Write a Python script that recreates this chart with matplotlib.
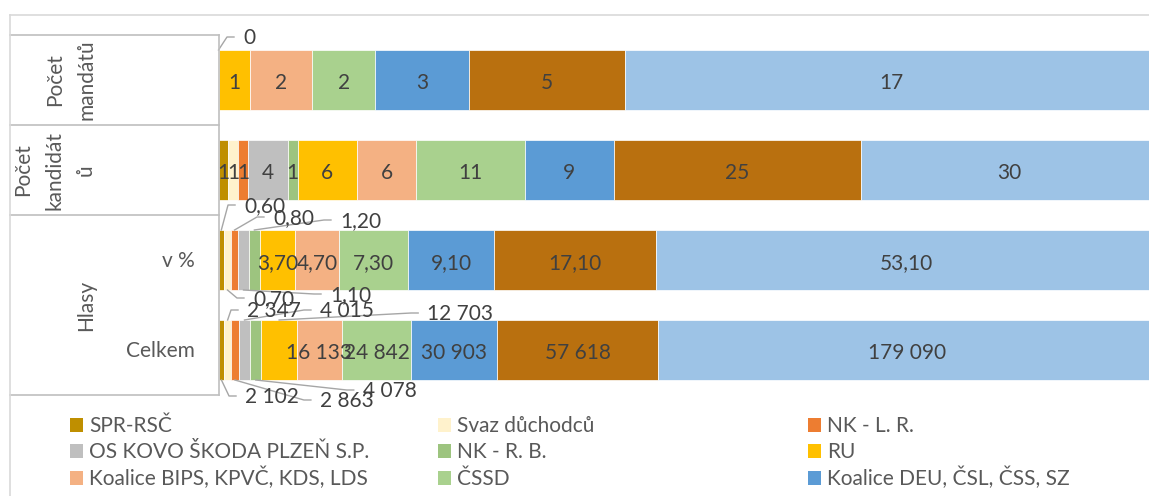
import numpy as np
import matplotlib
matplotlib.use("Agg")
import matplotlib.pyplot as plt
import matplotlib.transforms as mtransforms
from matplotlib.lines import Line2D
from matplotlib.patches import Rectangle

plt.rcParams['font.family'] = ['Lato', 'DejaVu Sans']

# ---------------- data ----------------
series = ["SPR-RSČ", "Svaz důchodců", "NK - L. R.", "OS KOVO ŠKODA PLZEŇ S.P.",
          "NK - R. B.", "RU", "Koalice BIPS, KPVČ, KDS, LDS", "ČSSD",
          "Koalice DEU, ČSL, ČSS, SZ", "LB", "ODS"]
colors = ["#BF8F00", "#FFF2CC", "#ED7D31", "#BFBFBF", "#9DC47F", "#FFC000",
          "#F4B183", "#A9D18E", "#5B9BD5", "#B9700F", "#9DC3E6"]
nan = np.nan
mandaty = [0, nan, nan, nan, nan, 1, 2, 2, 3, 5, 17]
kandidati = [1, 1, 1, 4, 1, 6, 6, 11, 9, 25, 30]
hlasy_pct = [0.60, 0.70, 0.80, 1.10, 1.20, 3.70, 4.70, 7.30, 9.10, 17.10, 53.10]
hlasy_celkem = [2102, 2347, 2863, 4015, 4078, 12703, 16133, 24842, 30903, 57618, 179090]

group_labels = ["Počet\nmandátů", "Počet\nkandidát\nů", "Hlasy"]
group_rows = [[0], [1], [2, 3]]
sub_labels = ["", "", "v %", "Celkem"]
legend_count = 9  # only first nine entries are visible

rows = [mandaty, kandidati, hlasy_pct, hlasy_celkem]


def fmt(row, v):
    if row == 2:
        return f"{v:.2f}".replace(".", ",")
    if row == 3:
        return f"{int(v):,}".replace(",", " ")
    return f"{int(v)}"


# callouts: (row, series index) -> (dx, dy, side) in pixels from anchor
callouts = {
    (0, 0): (24.5, -13, "top"),
    (2, 0): (22.7, -25, "top"),
    (2, 2): (38.4, -13, "top"),
    (2, 4): (85.6, -10, "top"),
    (2, 1): (25.5, 8, "bottom"),
    (2, 3): (86.5, 4, "bottom"),
    (3, 1): (19.4, -10, "top"),
    (3, 3): (75.5, -10, "top"),
    (3, 5): (148.0, -7, "top"),
    (3, 0): (23.6, 16, "bottom"),
    (3, 2): (85.0, 20, "bottom"),
    (3, 4): (107.0, 10, "bottom"),
}

# ---------------- layout ----------------
W, H = 1149, 496
fig = plt.figure(figsize=(W / 100, H / 100), dpi=100)
pxT = mtransforms.Affine2D().scale(1 / W, -1 / H).translate(0, 1) + fig.transFigure

ax_left, ax_right, ax_top, ax_bot = 218.5, 1157.0, 35.0, 395.0
ax = fig.add_axes([ax_left / W, (H - ax_bot) / H, (ax_right - ax_left) / W, (ax_bot - ax_top) / H])
ax.set_xlim(0, 1)
ax.set_ylim(len(rows) - 0.5, -0.5)
ax.axis("off")

TXT = "#404040"
AXT = "#595959"
FS = 15
CAP = 7  # half cap height in px
bar_h = 2 / 3

for r, vals in enumerate(rows):
    arr = np.array(vals, dtype=float)
    total = np.nansum(arr)
    left = 0.0
    for i, v in enumerate(arr):
        if np.isnan(v):
            continue
        w = v / total
        ax.barh(r, w, left=left, height=bar_h, color=colors[i], edgecolor="white", linewidth=0.5)
        cx = left + w / 2
        lab = fmt(r, v)
        if (r, i) in callouts:
            dx, dy, side = callouts[(r, i)]
            ay = r - bar_h / 2 if side == "top" else r + bar_h / 2
            axd = ax.transData.transform((cx, ay))
            apx, apy = axd[0], H - axd[1]
            tx, ty = apx + dx, apy + dy
            fig.add_artist(Line2D([apx, tx - 16, tx - 9], [apy, ty, ty], transform=pxT,
                                  color="#A6A6A6", lw=1.0))
            fig.text(tx, ty + CAP, lab, transform=pxT, ha="left", va="baseline",
                     fontsize=FS, color=TXT)
        else:
            ax.annotate(lab, (cx, r), xytext=(0, -9), textcoords="offset pixels",
                        ha="center", va="baseline", fontsize=FS, color=TXT)
        left += w

# ---------------- category table ----------------
def ypx(d):
    return H - ax.transData.transform((0, d))[1]

LINE = "#BFBFBF"
bounds = [-0.5, 0.5, 1.5, 3.5]
for b in bounds:
    yy = ypx(b)
    fig.add_artist(Line2D([10, ax_left], [yy, yy], transform=pxT, color=LINE, lw=1.2))
fig.add_artist(Line2D([ax_left, ax_left], [ypx(-0.5), ypx(3.5)], transform=pxT, color=LINE, lw=1.2))
# chart border
fig.add_artist(Line2D([10, W], [15, 15], transform=pxT, color="#D9D9D9", lw=1.2))
fig.add_artist(Line2D([10, 10], [15, H], transform=pxT, color="#D9D9D9", lw=1.2))

for lab, rr in zip(group_labels, group_rows):
    yc = np.mean([ypx(r) for r in rr])
    fig.text(96, yc, lab, transform=pxT, rotation=90, ha="right", va="center",
             fontsize=FS, color=AXT, linespacing=1.7, multialignment="center")
for r, lab in enumerate(sub_labels):
    if lab:
        fig.text(195, ypx(r) + CAP, lab, transform=pxT, ha="right", va="baseline",
                 fontsize=FS, color=AXT)

# ---------------- legend ----------------
col_x = [70, 438, 808]
row_base = [432, 458, 485]
for i in range(legend_count):
    c, rr = i % 3, i // 3
    x0, yb = col_x[c], row_base[rr]
    fig.add_artist(Rectangle((x0, yb - 14), 13, 13.5, transform=pxT, facecolor=colors[i],
                             edgecolor="none"))
    fig.text(x0 + 19, yb, series[i], transform=pxT, ha="left", va="baseline",
             fontsize=FS, color=AXT)

fig.savefig("out.png", dpi=100)
